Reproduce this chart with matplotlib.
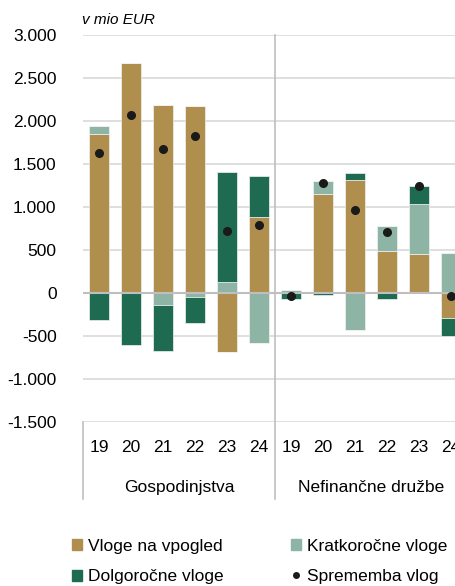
import numpy as np
import matplotlib
matplotlib.use('Agg')
import matplotlib.pyplot as plt
from matplotlib.patches import Patch
from matplotlib.lines import Line2D
from matplotlib.ticker import FuncFormatter

plt.rcParams['font.family'] = ['Liberation Sans', 'DejaVu Sans']
plt.rcParams['font.size'] = 12.5

# data (mio EUR), 2019-2024 for households, then non-financial corporations
years = ['19', '20', '21', '22', '23', '24']
groups = ['Gospodinjstva', 'Nefinančne družbe']

# households
hh_vpogled = [1850, 2670, 2190, 2170, -685, 880]
hh_kratko = [90, 0, -145, -45, 130, -580]
hh_dolgo = [-315, -600, -530, -300, 1280, 480]
hh_sprememba = [1630, 2075, 1670, 1830, 723, 793]

# non-financial corporations
nfc_vpogled = [0, 1150, 1310, 490, 455, -290]
nfc_kratko = [40, 150, -425, 290, 580, 460]
nfc_dolgo = [-70, -20, 85, -70, 205, -215]
nfc_sprememba = [-30, 1280, 970, 715, 1240, -40]

labels = ['Vloge na vpogled', 'Kratkoročne vloge', 'Dolgoročne vloge', 'Sprememba vlog']
colors = ['#B08F4E', '#8DB4A5', '#1E6B51']

vpogled = np.array(hh_vpogled + nfc_vpogled, dtype=float)
kratko = np.array(hh_kratko + nfc_kratko, dtype=float)
dolgo = np.array(hh_dolgo + nfc_dolgo, dtype=float)
sprememba = np.array(hh_sprememba + nfc_sprememba, dtype=float)
x = np.arange(len(vpogled))

fig = plt.figure(figsize=(4.56, 5.86), dpi=100)
ax = fig.add_axes([83 / 456, 1 - 422 / 586, 384 / 456, 387 / 586])

# stack positives upward and negatives downward
pos_base = np.zeros(len(x))
neg_base = np.zeros(len(x))
for vals, col in zip([vpogled, kratko, dolgo], colors):
    pos = np.where(vals > 0, vals, 0)
    neg = np.where(vals < 0, vals, 0)
    ax.bar(x, pos, bottom=pos_base, width=0.6, color=col, edgecolor='#f2f2f2', linewidth=0.5, zorder=2)
    ax.bar(x, neg, bottom=neg_base, width=0.6, color=col, edgecolor='#f2f2f2', linewidth=0.5, zorder=2)
    pos_base += pos
    neg_base += neg

ax.plot(x, sprememba, 'o', color='#1a1a1a', markersize=5.5, zorder=4)

ax.set_xlim(-0.5, len(x) - 0.5)
ax.set_ylim(-1500, 3000)
ax.set_yticks(np.arange(-1500, 3001, 500))
ax.yaxis.set_major_formatter(FuncFormatter(lambda v, p: f'{int(v):,}'.replace(',', '.')))
ax.tick_params(axis='y', length=0, pad=19, labelsize=12.5)
ax.set_xticks([])
ax.grid(axis='y', color='#d9d9d9', linewidth=1.2, zorder=0)
ax.set_axisbelow(True)
ax.axhline(0, color='#bfbfbf', linewidth=1.5, zorder=3)
for s in ax.spines.values():
    s.set_visible(False)

# category axis (years + groups) below the plot
trans = ax.get_xaxis_transform()
for i, xi in enumerate(x):
    ax.text(xi, -0.067, years[i % 6], transform=trans, ha='center', va='center', fontsize=12.5)
for g, name in enumerate(groups):
    ax.text(g * 6 + 2.5, -0.168, name, transform=trans, ha='center', va='center', fontsize=12.5)
ax.plot([-0.5, -0.5], [0, -0.2], transform=trans, color='#bfbfbf', linewidth=1.2, clip_on=False)
ax.plot([5.5, 5.5], [1, -0.2], transform=trans, color='#bfbfbf', linewidth=1.2, clip_on=False)
ax.plot([11.5, 11.5], [0, -0.2], transform=trans, color='#bfbfbf', linewidth=1.2, clip_on=False)

fig.text(82 / 456, 1 - 20 / 586, 'v mio EUR', style='italic', fontsize=11, ha='left', va='center')

handles = [Patch(color=colors[0]), Patch(color=colors[2]),
           Patch(color=colors[1]),
           Line2D([], [], marker='o', linestyle='', color='#1a1a1a', markersize=4)]
leg_labels = [labels[0], labels[2], labels[1], labels[3]]
fig.legend(handles, leg_labels, ncol=2, loc='center left', bbox_to_anchor=(72 / 456, 0.042),
           frameon=False, borderpad=0, borderaxespad=0, handlelength=0.6, handleheight=0.6,
           handletextpad=0.3, columnspacing=3.9, labelspacing=0.9, fontsize=12.5)

fig.savefig('out.png', dpi=100)
